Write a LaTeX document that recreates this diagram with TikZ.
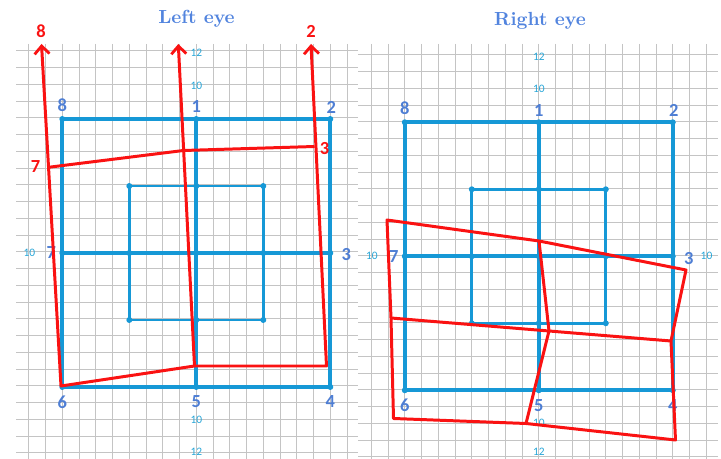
\documentclass[tikz,border=0pt]{standalone}
\usepackage{fontspec}
\usepackage{tikz}
\usetikzlibrary{arrows.meta}
\newfontfamily\numfont{Carlito}
\definecolor{tblue}{RGB}{82,132,222}
\definecolor{lblue}{RGB}{78,126,212}
\definecolor{gblue}{RGB}{22,152,214}
\definecolor{tick}{RGB}{38,165,215}
\definecolor{mred}{RGB}{250,18,18}
\definecolor{paper}{RGB}{196,196,196}

\begin{document}
\begin{tikzpicture}[x=0.02cm,y=-0.02cm,
  every node/.style={inner sep=0pt},
  grd/.style={draw=paper,line width=0.45pt},
  outer/.style={draw=gblue,line width=2.2pt},
  inner/.style={draw=gblue,line width=1.6pt},
  dot/.style={circle,fill=gblue,minimum size=3.4pt},
  num/.style={text=lblue,font=\numfont\bfseries\fontsize{10.5}{12}\selectfont},
  tk/.style={text=tick,font=\numfont\fontsize{6.5}{7}\selectfont},
  rnum/.style={text=mred,font=\numfont\bfseries\fontsize{10.5}{12}\selectfont},
  ttl/.style={text=tblue,font=\bfseries\fontsize{10.8}{13}\selectfont},
  cut/.style={draw=mred,line width=1.7pt,line join=round},
  barb/.tip={Straight Barb[length=4.5pt,width=8.5pt,line width=1.6pt]}
]
  \useasboundingbox (0,0) rectangle (721,459);
  % squared paper, one sheet per eye
  \foreach \k in {-2,...,17}
    \draw[grd] ({62.3+16.75*\k},44) -- ({62.3+16.75*\k},459);
  \foreach \k in {-4,...,20}
    \draw[grd] (16,{117.8+16.75*\k}) -- (358,{117.8+16.75*\k});
  \foreach \k in {-2,...,18}
    \draw[grd] ({404.7+16.75*\k},44) -- ({404.7+16.75*\k},459);
  \foreach \k in {-4,...,20}
    \draw[grd] (358,{121.7+16.75*\k}) -- (718,{121.7+16.75*\k});

  % titles
  \node[ttl] (lefttitle) at (196.5,19) {Left eye};
  \node[ttl] (righttitle) at (540,21) {Right eye};

  % blue target, same for both eyes
  \foreach \p/\cx/\cy/\h in {L/196.3/253/134, R/538.8/256.3/134} {
    \coordinate (\p8) at ({\cx-\h},{\cy-\h});
    \coordinate (\p1) at (\cx,{\cy-\h});
    \coordinate (\p2) at ({\cx+\h},{\cy-\h});
    \coordinate (\p3) at ({\cx+\h},\cy);
    \coordinate (\p4) at ({\cx+\h},{\cy+\h});
    \coordinate (\p5) at (\cx,{\cy+\h});
    \coordinate (\p6) at ({\cx-\h},{\cy+\h});
    \coordinate (\p7) at ({\cx-\h},\cy);
    \coordinate (\p c) at (\cx,\cy);
    \coordinate (\p a) at ({\cx-\h/2},{\cy-\h/2});
    \coordinate (\p b) at ({\cx+\h/2},{\cy-\h/2});
    \coordinate (\p d) at ({\cx+\h/2},{\cy+\h/2});
    \coordinate (\p e) at ({\cx-\h/2},{\cy+\h/2});
    \coordinate (\p n) at (\cx,{\cy-\h/2});
    \coordinate (\p s) at (\cx,{\cy+\h/2});
    \coordinate (\p w) at ({\cx-\h/2},\cy);
    \coordinate (\p o) at ({\cx+\h/2},\cy);
    \draw[inner] (\p a) -- (\p b) -- (\p d) -- (\p e) -- cycle;
    \draw[outer] (\p8) -- (\p2) -- (\p4) -- (\p6) -- cycle;
    \draw[outer] (\p1) -- (\p5) (\p7) -- (\p3);
    \foreach \q in {8,1,2,3,4,5,6,7,c,a,b,d,e,n,s,w,o}
      \node[dot] (\p dot\q) at (\p\q) {};
    % labels
    \node[num] (\p l8) at ({\cx-\h},{\cy-\h-14}) {8};
    \node[num] (\p l1) at (\cx,{\cy-\h-12}) {1};
    \node[num] (\p l2) at ({\cx+\h+1},{\cy-\h-12}) {2};
    \node[num] (\p l3) at ({\cx+\h+16},{\cy+2}) {3};
    \node[num] (\p l7) at ({\cx-\h-11},\cy) {7};
    \node[num] (\p l6) at ({\cx-\h},{\cy+\h+15}) {6};
    \node[num] (\p l5) at (\cx,{\cy+\h+15}) {5};
    \node[num] (\p l4) at ({\cx+\h},{\cy+\h+15}) {4};
    \node[tk] (\p t10w) at ({\cx-\h-33},\cy) {10};
    \node[tk] (\p t10n) at (\cx,{\cy-\h-33}) {10};
    \node[tk] (\p t12n) at (\cx,{\cy-\h-66}) {12};
    \node[tk] (\p t10s) at (\cx,{\cy+\h+33}) {10};
    \node[tk] (\p t12s) at (\cx,{min(\cy+\h+66,452)}) {12};
  }
  \node[tk] (Rt10e) at (706.5,256) {10};

  % left eye: measured field
  \coordinate (lq8) at (41.5,44);
  \coordinate (lq7) at (48.4,167.3);
  \coordinate (lq6) at (61,386);
  \coordinate (lq5) at (194.5,366);
  \coordinate (lq4) at (326.5,366);
  \coordinate (lq2) at (311,44);
  \coordinate (lq1) at (178.3,44);
  \coordinate (lqm) at (183.4,150.5);
  \coordinate (lq3) at (314.5,146.5);
  \draw[cut,barb-barb] (lq8) -- (lq6) -- (lq5) -- (lq4) -- (lq2);
  \draw[cut,-barb] (lq5) -- (lq1);
  \draw[cut] (lq7) -- (lqm) -- (lq3);
  \node[rnum] (lr8) at (41,31) {8};
  \node[rnum] (lr2) at (311,31) {2};
  \node[rnum] (lr7) at (35.5,167) {7};
  \node[rnum] (lr3) at (324.5,149) {3};

  % right eye: measured field
  \coordinate (ra) at (387,220);
  \coordinate (rb) at (539,241);
  \coordinate (rc) at (686,270);
  \coordinate (rd) at (391,318);
  \coordinate (re) at (549,331);
  \coordinate (rf) at (671,341);
  \coordinate (rg) at (393.5,418.5);
  \coordinate (rh) at (526,423.5);
  \coordinate (ri) at (675.5,440);
  \draw[cut] (ra) -- (rb) -- (rc) -- (rf) -- (ri) -- (rh) -- (rg) -- (rd) -- cycle;
  \draw[cut] (rd) -- (re) -- (rf);
  \draw[cut] (rb) -- (re) -- (rh);
\end{tikzpicture}
\end{document}
